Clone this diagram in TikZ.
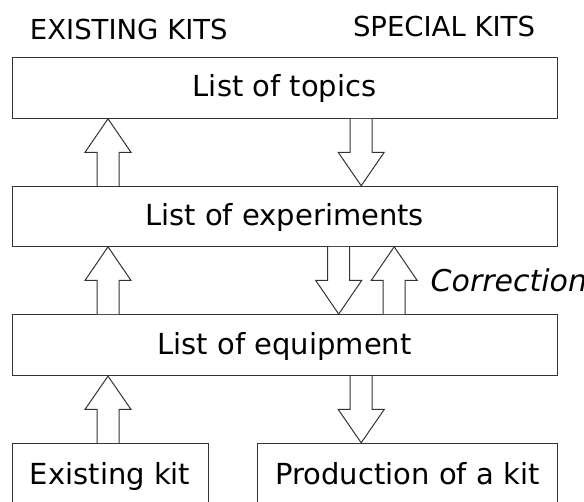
\documentclass[tikz,border=0pt]{standalone}
\usepackage{fontspec}
\setmainfont{DejaVu Sans}
\usetikzlibrary{calc}
\tikzset{
  box/.style={draw=black!80, line width=1pt, minimum width=545.3pt, minimum height=61pt,
    inner sep=0pt, text height=22pt, text depth=4pt, font=\fontsize{29}{34}\selectfont},
  kitbox/.style={box, minimum height=65.4pt},
  header/.style={anchor=base, inner sep=0pt, font=\fontsize{27.5}{32}\selectfont},
  blockarrow/.style={draw=black!80, line width=1pt, fill=white, line join=miter},
}
\newcommand\blockarr[2]{%
  \draw[blockarrow] ($(#1)+(-11pt,0)$) -- ($(#1)!0.5!(#2)+(-11pt,0)$) -- ($(#1)!0.5!(#2)+(-23pt,0)$)
    -- (#2) -- ($(#1)!0.5!(#2)+(23pt,0)$) -- ($(#1)!0.5!(#2)+(11pt,0)$) -- ($(#1)+(11pt,0)$);}
\begin{document}
\begin{tikzpicture}[x=1pt,y=-1pt]
\useasboundingbox (0,0) rectangle (584,502);
\node[header] (hexist) at (128.8,39.3) {EXISTING KITS};
\node[header] (hspec) at (444,36.7) {SPECIAL KITS};
\node[box] (topics) at (284.65,87.8) {List of topics};
\node[box, minimum height=60pt] (exp) at (284.65,216.3) {List of experiments};
\node[box] (equip) at (284.65,345.1) {List of equipment};
\node[kitbox, minimum width=196.3pt] (exist) at (110.15,476) {Existing kit};
\node[kitbox, minimum width=299.6pt] (prod) at (407.5,476) {Production of a kit};
\node[anchor=base west, inner sep=0pt, font=\fontsize{30}{34}\selectfont\itshape] (corr) at (430.5,291.5) {Correction};
\coordinate (cL) at (108,0);
\coordinate (cR) at (361.2,0);
\coordinate (cD) at (338.7,0);
\coordinate (cU) at (394.2,0);
\blockarr{exp.north -| cL}{topics.south -| cL}
\blockarr{topics.south -| cR}{exp.north -| cR}
\blockarr{equip.north -| cL}{exp.south -| cL}
\blockarr{exp.south -| cD}{equip.north -| cD}
\blockarr{equip.north -| cU}{exp.south -| cU}
\blockarr{exist.north -| cL}{equip.south -| cL}
\blockarr{equip.south -| cR}{prod.north -| cR}
\end{tikzpicture}
\end{document}
